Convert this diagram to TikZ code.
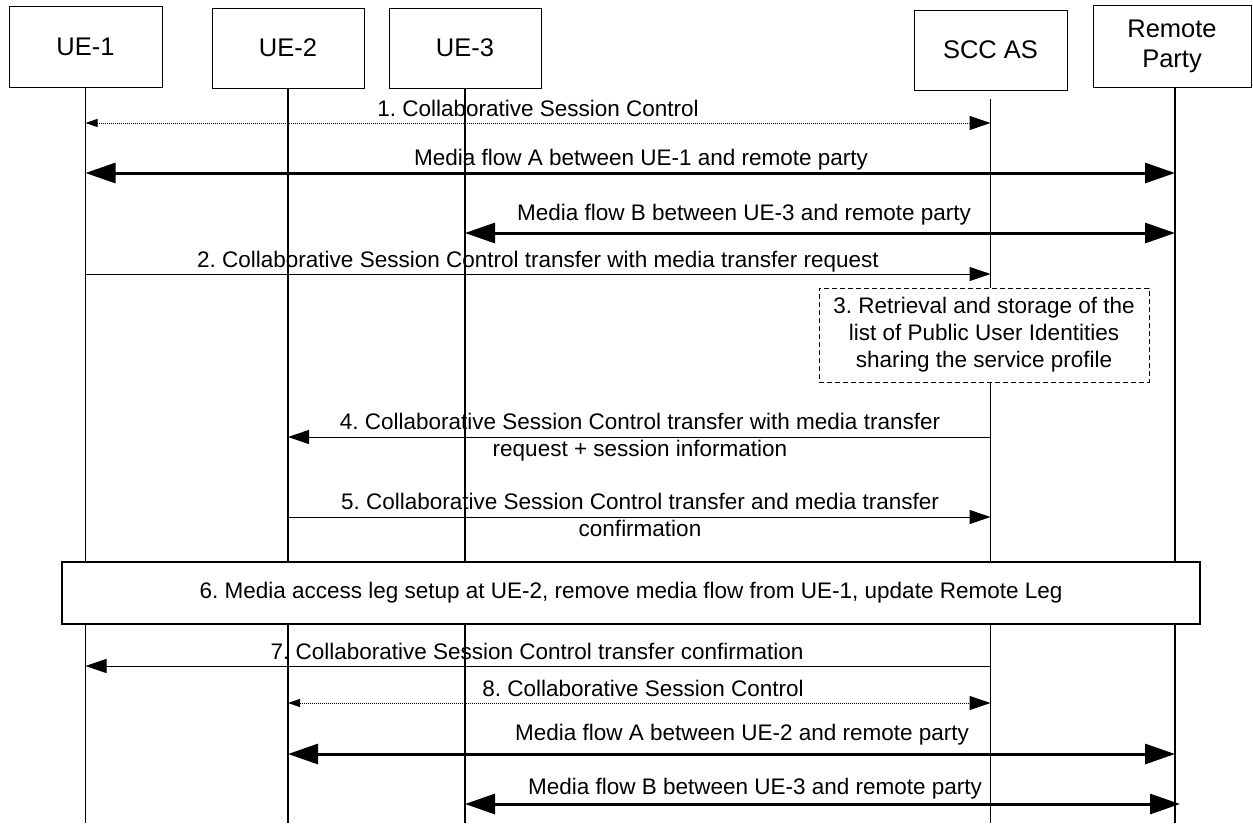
\documentclass[tikz,border=0pt]{standalone}
\usepackage{fontspec}
\setmainfont{Liberation Sans}
\usetikzlibrary{arrows.meta}
\frenchspacing
\begin{document}
\begin{tikzpicture}[x=1pt,y=-1pt,
  actor/.style={draw, line width=1pt, fill=white, align=center, inner sep=0pt,
    font=\fontsize{25.5}{30}\selectfont},
  life/.style={line width=1.6pt},
  lbl/.style={font=\fontsize{22.5}{27}\selectfont, inner sep=0pt, align=center},
  thinmsg/.style={line width=1pt, -{Triangle[length=21pt,width=14pt]}},
  dotmsg/.style={line width=1pt, dash pattern=on 1pt off 1pt,
    {Triangle[length=12pt,width=8pt]}-{Triangle[length=21pt,width=14pt]}},
  thickmsg/.style={line width=3pt,
    {Triangle[length=30pt,width=20pt]}-{Triangle[length=30pt,width=20pt]}},
  notebox/.style={draw, dashed, dash pattern=on 5pt off 3pt, line width=1pt, fill=white,
    inner sep=0pt, align=center, font=\fontsize{22.5}{27}\selectfont},
  stagebox/.style={draw, line width=1.6pt, fill=white, inner sep=0pt,
    font=\fontsize{22.5}{27}\selectfont}
]
\useasboundingbox (0,0) rectangle (1253,823);

% actors
\node[actor, minimum width=153pt, minimum height=81pt] (ue1) at (85.5,46.5) {UE-1};
\node[actor, minimum width=152pt, minimum height=80pt] (ue2) at (288,48) {UE-2};
\node[actor, minimum width=152pt, minimum height=80pt] (ue3) at (465,48) {UE-3};
\node[actor, minimum width=153pt, minimum height=80pt] (scc) at (990.5,50) {SCC AS};
\node[actor, minimum width=158pt, minimum height=82pt] (rp) at (1172,46) {Remote\\Party};

% rows
\coordinate (bot) at (0,823);
\coordinate (sccstart) at (0,99);
\coordinate (r1) at (0,123);
\coordinate (r2) at (0,173);
\coordinate (r3) at (0,233);
\coordinate (r4) at (0,274);
\coordinate (r5) at (0,437);
\coordinate (r6) at (0,517);
\coordinate (r7) at (0,666);
\coordinate (r8) at (0,703);
\coordinate (r9) at (0,754);
\coordinate (r10) at (0,804);
\coordinate (rpl) at ([xshift=3pt]rp.south);
\coordinate (rpl2) at ([xshift=8pt]rp.south);

% lifelines
\draw[life] (ue1.south) -- (ue1 |- bot);
\draw[life] (ue2.south) -- (ue2 |- bot);
\draw[life] (ue3.south) -- (ue3 |- bot);
\draw[life] (scc |- sccstart) -- (scc |- bot);
\draw[life] (rpl) -- (rpl |- bot);

% boxes over lifelines
\node[notebox, minimum width=330pt, minimum height=94pt] (n3) at (984,335)
  {3. Retrieval and storage of the\\list of Public User Identities\\sharing the service profile};
\node[stagebox, minimum width=1138pt, minimum height=62pt] (n6) at (631,593)
  {6. Media access leg setup at UE-2, remove media flow from UE-1, update Remote Leg};

% messages
\draw[dotmsg] (ue1 |- r1) -- (scc |- r1);
\node[lbl, anchor=base] (t1) at (538,116) {1. Collaborative Session Control};

\draw[thickmsg] (ue1 |- r2) -- (rpl |- r2);
\node[lbl, anchor=base] (tA) at (641,165) {Media flow A between UE-1 and remote party};

\draw[thickmsg] (ue3 |- r3) -- (rpl |- r3);
\node[lbl, anchor=base] (tB) at (744,220) {Media flow B between UE-3 and remote party};

\draw[thinmsg] (ue1 |- r4) -- (scc |- r4);
\node[lbl, anchor=base] (t2) at (538,267) {2. Collaborative Session Control transfer with media transfer request};

\draw[thinmsg] (scc |- r5) -- (ue2 |- r5);
\node[lbl] (t4) at (640,437.6) {4. Collaborative Session Control transfer with media transfer\\request + session information};

\draw[thinmsg] (ue2 |- r6) -- (scc |- r6);
\node[lbl] (t5) at (640,515.3) {5. Collaborative Session Control transfer and media transfer\\confirmation};

\draw[thinmsg] (scc |- r7) -- (ue1 |- r7);
\node[lbl, anchor=base] (t7) at (537,659) {7. Collaborative Session Control transfer confirmation};

\draw[dotmsg] (ue2 |- r8) -- (scc |- r8);
\node[lbl, anchor=base] (t8) at (643,696) {8. Collaborative Session Control};

\draw[thickmsg] (ue2 |- r9) -- (rpl |- r9);
\node[lbl, anchor=base] (tA2) at (742,740) {Media flow A between UE-2 and remote party};

\draw[thickmsg] (ue3 |- r10) -- (rpl2 |- r10);
\node[lbl, anchor=base] (tB2) at (755,794) {Media flow B between UE-3 and remote party};
\end{tikzpicture}
\end{document}
